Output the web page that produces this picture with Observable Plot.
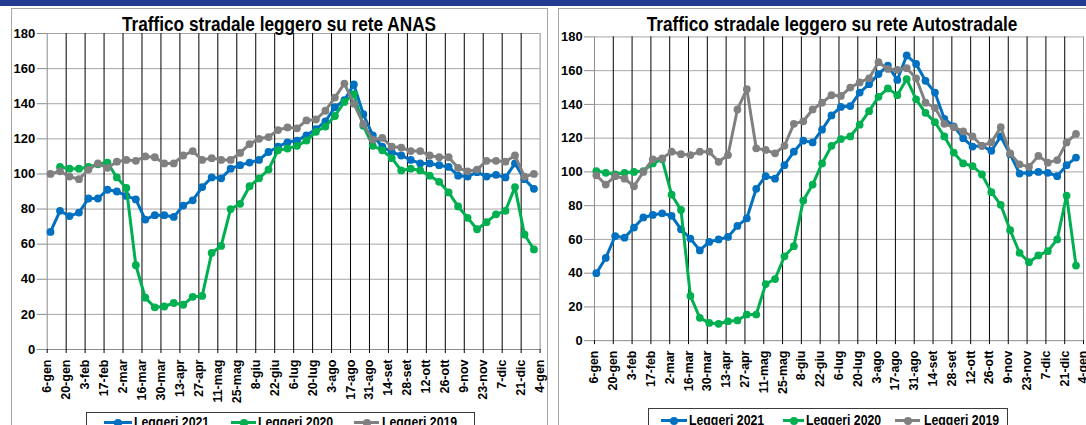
<!DOCTYPE html>
<html><head><meta charset="utf-8">
<script src="https://cdn.jsdelivr.net/npm/d3@7"></script>
<script src="https://cdn.jsdelivr.net/npm/@observablehq/plot@0.6"></script>
<style>
html,body{margin:0;padding:0;background:#fff;}
body{width:1086px;height:425px;overflow:hidden;position:relative;font-family:"Liberation Sans",Arial,sans-serif;}
.band{position:absolute;left:0;top:0;width:1086px;height:6px;background:#233a8f;}
.panel{position:absolute;top:8px;height:430px;border:1px solid #a6a6a6;box-sizing:border-box;}
.chart{position:absolute;top:0;}
.title{position:absolute;font-weight:bold;font-size:21px;line-height:21px;white-space:nowrap;transform:translateX(-50%) scaleX(.82);color:#000;}
.legend{position:absolute;height:40px;border:1px solid #3a3a3a;background:#fff;box-sizing:border-box;}
.lt{position:absolute;font-weight:bold;font-size:15px;line-height:15px;white-space:nowrap;transform:scaleX(.82);transform-origin:left center;color:#000;}
.ls{position:absolute;height:3px;}
.ld{position:absolute;width:8px;height:8px;border-radius:50%;}
</style>
</head><body>
<div class="band"></div>
<div class="panel" style="left:11px;width:537px;"></div>
<div class="panel" style="left:558px;width:540px;"></div>
<div id="c1" class="chart" style="left:0px;"></div>
<div id="c2" class="chart" style="left:550px;"></div>
<div class="title" style="left:279px;top:13px;">Traffico stradale leggero su rete ANAS</div>
<div class="title" style="left:832px;top:13px;">Traffico stradale leggero su rete Autostradale</div>
<div id="leg"></div>
<script>
const weekLabels = ["6-gen","20-gen","3-feb","17-feb","2-mar","16-mar","30-mar","13-apr","27-apr","11-mag","25-mag","8-giu","22-giu","6-lug","20-lug","3-ago","17-ago","31-ago","14-set","28-set","12-ott","26-ott","9-nov","23-nov","7-dic","21-dic","4-gen"];
const seriesNames = ["Leggeri 2021","Leggeri 2020","Leggeri 2019"];
const seriesColors = ["#0070C0","#00B050","#808080"];
const yTicks = [0,20,40,60,80,100,120,140,160,180];

// Rete ANAS
const anas2021 = [67,79,76,78,86,86,91,90,87.5,85.5,74,76.5,76.5,75.5,82,85,92.5,98,97.5,103,105,106.5,108,112.5,115.5,118,119,122,125.5,130,138,142,151,134,122,115.5,112.5,110.5,108,106,106,105,104,99,98.5,101,98.5,99.5,98,106,97,91.5];
const anas2020 = [null,104,103,103,104,105.5,106.5,98,92,48,29.5,24,24.5,26.5,25.5,30,30.5,55,59,80,83,93,97.5,102.5,113.5,114.5,116,119,124,127,133,141,145.5,127.5,116,113.5,109,102,103,102,99,95.5,89.5,81.5,75,68.5,72.5,77,79,92.5,65.5,57];
const anas2019 = [100,101.5,98.5,97,102.5,106,103.5,107,108,107.5,110,109.5,106,106,110.5,113,108,109,108,108,112,117,120,121,125,126.5,126,130.5,131,136,143.5,151.5,140,128.5,119.5,120.5,115.5,115,113,113,110.5,109.5,109.5,103.5,101.5,102.5,107.5,107.5,107,110.5,98.5,100];

// Rete Autostradale
const auto2021 = [40,49,62,61,67,73,74.5,75.5,74,66,60.5,53.5,58.5,60,61.5,68,72.5,90,97.5,96,104,112,118.5,117.5,125,133.5,138.5,139,147,152,158,163,154.5,169,164,154,147,131.5,127,120,115,115.5,112.5,121,110.5,99,99.5,100,99.5,97.5,104,108.5];
const auto2020 = [100.5,99.5,98.5,99.5,100,100.5,105,107.5,86.5,77.5,26.5,13.5,10.5,10,11.5,12,15.5,15.5,33.5,36.5,50,56,83,92.5,105,115.5,119.5,121,128,136,144.5,149.5,145.5,155,143,135,129.5,121,111.5,105,103.5,98.5,88,80.5,65.5,52,46.5,50.5,53,60,86,44.5];
const auto2019 = [98,92.5,97.5,96,91.5,100,107.5,108,112,110.5,110,112,112,106,110,137,149,114,113,111,115.5,128.5,130,137,141,145.5,145,150,153,155.5,165,161,160.5,161.5,155.5,141,138,128.5,126.5,124,121,115.5,117.5,126.5,111,104.5,103,109.5,105.5,107,117.5,122.5];

function makeRows(arrays, offset) {
  const rows = [];
  arrays.forEach((arr, s) => arr.forEach((v, i) => rows.push({week: i + offset, value: v, serie: seriesNames[s]})));
  return rows;
}

function chart(arrays, offset, geo) {
  const rows = makeRows(arrays, offset);
  const xTicks = d3.range(0, 53, 2);
  const marks = [
    Plot.gridY(yTicks.slice(1), {stroke: "#a6a6a6", strokeOpacity: 1}),
    Plot.gridX(xTicks.filter(d => d > 0 && d < 52), {stroke: "#000", strokeOpacity: 1}),
    Plot.ruleX([0, 52], {stroke: "#8c8c8c"}),
    Plot.ruleY([0], {stroke: "#8c8c8c"}),
    Plot.axisY(yTicks, {label: null, tickSize: 10, tickPadding: 2, stroke: "#8c8c8c", fill: "#000", fontWeight: "bold", fontSize: 13, tickFormat: d => d}),
    Plot.axisX(xTicks, {label: null, tickSize: 4, tickPadding: 6, tickRotate: -90, stroke: "#000", fill: "#000", fontWeight: "bold", fontSize: 12.5, tickFormat: d => weekLabels[d / 2]}),
  ];
  seriesNames.forEach((name, s) => {
    const sub = rows.filter(r => r.serie === name);
    marks.push(Plot.line(sub, {x: "week", y: "value", stroke: seriesColors[s], strokeWidth: 3, curve: "linear"}));
    marks.push(Plot.dot(sub.filter(r => r.value != null), {x: "week", y: "value", fill: seriesColors[s], r: 3.9, stroke: "none"}));
  });
  return Plot.plot({
    width: geo.width, height: 425,
    marginLeft: geo.mL, marginRight: geo.mR, marginTop: geo.mT, marginBottom: geo.mB,
    style: {background: "transparent", fontFamily: "'Liberation Sans', Arial, sans-serif", overflow: "visible"},
    x: {type: "linear", domain: [0, 52], axis: null, label: null},
    y: {domain: [0, 180], axis: null, label: null},
    marks
  });
}

document.getElementById("c1").append(chart([anas2021, anas2020, anas2019], 0.35, {width: 548, mL: 46.7, mR: 8.4, mT: 33, mB: 76}));
document.getElementById("c2").append(chart([auto2021, auto2020, auto2019], 0.2, {width: 540, mL: 44.3, mR: 3, mT: 36.7, mB: 82.3}));

// legends
function legend(box, items, baseline, lineY) {
  const leg = document.getElementById("leg");
  const b = document.createElement("div");
  b.className = "legend";
  b.style.left = box[0] + "px"; b.style.top = box[1] + "px"; b.style.width = (box[2] - box[0]) + "px";
  leg.append(b);
  items.forEach((it, s) => {
    const ls = document.createElement("div");
    ls.className = "ls";
    ls.style.left = it[0] + "px"; ls.style.width = (it[1] - it[0]) + "px"; ls.style.top = (lineY - 1.5) + "px";
    ls.style.background = seriesColors[s];
    leg.append(ls);
    const ld = document.createElement("div");
    ld.className = "ld";
    ld.style.left = ((it[0] + it[1]) / 2 - 4) + "px"; ld.style.top = (lineY - 4) + "px";
    ld.style.background = seriesColors[s];
    leg.append(ld);
    const lt = document.createElement("div");
    lt.className = "lt";
    lt.textContent = seriesNames[s];
    lt.style.left = it[2] + "px"; lt.style.top = (baseline - 12.7) + "px";
    leg.append(lt);
  });
}
legend([86, 412, 475], [[104, 132, 134], [231, 256, 258], [354, 379, 382]], 427, 422.5);
legend([648, 408, 1008], [[661, 687, 689], [783, 804, 806], [895, 920, 924]], 425, 420.5);
</script>
</body></html>
